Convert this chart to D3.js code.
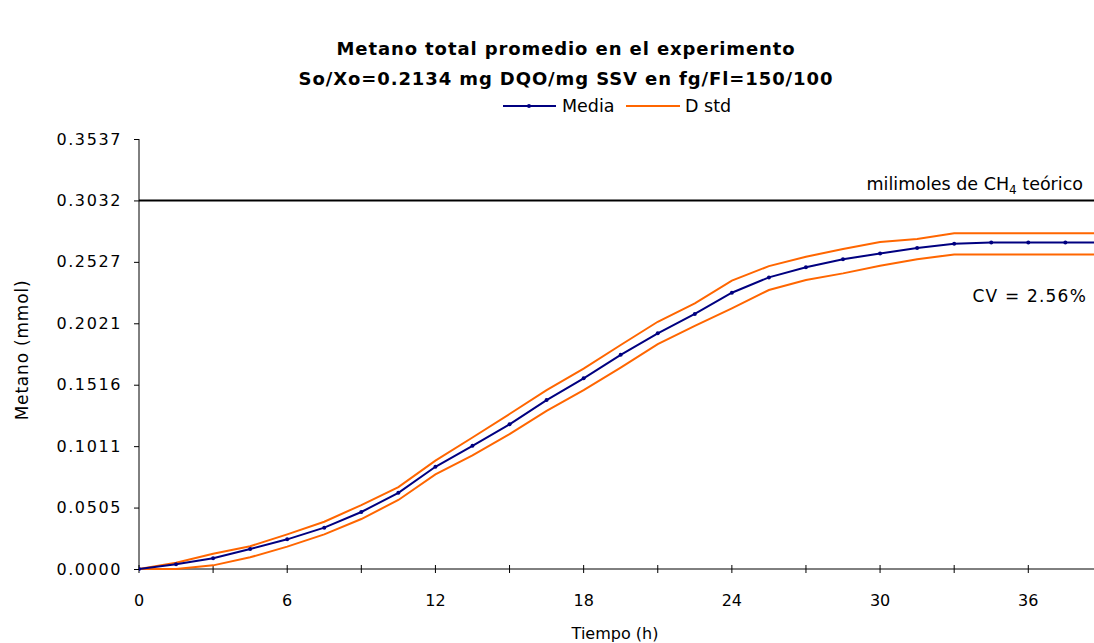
<!DOCTYPE html>
<html>
<head>
<meta charset="utf-8">
<script src="https://cdn.jsdelivr.net/npm/d3@7"></script>
<style>
  body { margin: 0; background: #fff; }
  text { font-family: "DejaVu Sans", Verdana, sans-serif; fill: #000; }
</style>
</head>
<body>
<script>
// time in hours, one reading every 1.5 h
var tiempo = [0, 1.5, 3, 4.5, 6, 7.5, 9, 10.5, 12, 13.5, 15, 16.5, 18, 19.5, 21, 22.5,
              24, 25.5, 27, 28.5, 30, 31.5, 33, 34.5, 36, 37.5, 39];
// mean methane (mmol)
var media = [0, 0.0039, 0.0088, 0.0165, 0.0244, 0.0340, 0.0469, 0.0627, 0.0841, 0.1013,
             0.1190, 0.1390, 0.1569, 0.1762, 0.1939, 0.2098, 0.2273, 0.2399, 0.2482, 0.2548,
             0.2596, 0.2641, 0.2676, 0.2687, 0.2687, 0.2687, 0.2687];
// mean + std
var dstdSup = [0, 0.0052, 0.0126, 0.0187, 0.0285, 0.0389, 0.0526, 0.0674, 0.0891, 0.1082,
               0.1275, 0.1472, 0.1649, 0.1843, 0.2034, 0.2186, 0.2372, 0.2492, 0.2569, 0.2632,
               0.2690, 0.2714, 0.2762, 0.2762, 0.2762, 0.2762, 0.2762];
// mean - std
var dstdInf = [0, 0, 0.0030, 0.0096, 0.0184, 0.0285, 0.0411, 0.0568, 0.0779, 0.0934,
               0.1110, 0.1300, 0.1472, 0.1657, 0.1850, 0.2000, 0.2144, 0.2295, 0.2377, 0.2432,
               0.2495, 0.2548, 0.2588, 0.2588, 0.2588, 0.2588, 0.2588];

var teorico = 0.3032;
var yTicks = [0, 0.05054, 0.10107, 0.15161, 0.20214, 0.25268, 0.30321, 0.35375];
var yTickLabels = ["0.0000", "0.0505", "0.1011", "0.1516", "0.2021", "0.2527", "0.3032", "0.3537"];
var xTicks = [0, 3, 6, 9, 12, 15, 18, 21, 24, 27, 30, 33, 36];
var xLabels = [0, 6, 12, 18, 24, 30, 36];

var W = 1094, H = 643;
var pLeft = 139, pRight = 1094, pTop = 139, pBottom = 569;

var svg = d3.select("body").append("svg")
            .attr("width", W)
            .attr("height", H);

var x = d3.scaleLinear().domain([0, 38.66]).range([pLeft, pRight]);
var y = d3.scaleLinear().domain([0, 0.35375]).range([pBottom, pTop]);

svg.append("clipPath").attr("id", "area")
   .append("rect").attr("x", pLeft).attr("y", pTop - 5)
   .attr("width", pRight - pLeft).attr("height", pBottom - pTop + 10);

// title
svg.append("text").attr("x", 566).attr("y", 55).attr("text-anchor", "middle")
   .style("font-weight", "bold").style("font-size", "18px").style("letter-spacing", "0.9px")
   .text("Metano total promedio en el experimento");
svg.append("text").attr("x", 566).attr("y", 85).attr("text-anchor", "middle")
   .style("font-weight", "bold").style("font-size", "18px").style("letter-spacing", "0.9px")
   .text("So/Xo=0.2134 mg DQO/mg SSV en fg/Fl=150/100");

// legend
var leg = svg.append("g").attr("transform", "translate(0,106)");
leg.append("line").attr("x1", 503).attr("x2", 556).attr("y1", 0).attr("y2", 0)
   .attr("stroke", "#000080").attr("stroke-width", 2);
leg.append("circle").attr("cx", 529).attr("cy", 0).attr("r", 2).attr("fill", "#000080");
leg.append("text").attr("x", 562).attr("y", 6).style("font-size", "17.5px").text("Media");
leg.append("line").attr("x1", 626).attr("x2", 680).attr("y1", 0).attr("y2", 0)
   .attr("stroke", "#FF6600").attr("stroke-width", 2);
leg.append("text").attr("x", 685).attr("y", 6).style("font-size", "17.5px").text("D std");

// axes
var yAxis = d3.axisLeft(y).tickValues(yTicks)
              .tickFormat(function(d, i){ return yTickLabels[i]; })
              .tickSize(5).tickPadding(12);
var gy = svg.append("g").attr("transform", "translate(" + pLeft + ",0)").call(yAxis);
gy.select(".domain").attr("d", "M0," + pTop + "V" + pBottom);
gy.selectAll("text").style("font-size", "16px").style("letter-spacing", "1.6px")
  .attr("font-family", null);

var gx = svg.append("g").attr("transform", "translate(0," + pBottom + ")");
gx.append("line").attr("x1", pLeft).attr("x2", pRight).attr("stroke", "#000");
gx.selectAll(".tk").data(xTicks).enter().append("line")
  .attr("x1", function(d){ return x(d); }).attr("x2", function(d){ return x(d); })
  .attr("y1", -4).attr("y2", 4).attr("stroke", "#000");
gx.selectAll(".lb").data(xLabels).enter().append("text")
  .attr("x", function(d){ return x(d); }).attr("y", 37)
  .attr("text-anchor", "middle").style("font-size", "16px")
  .text(function(d){ return d; });

svg.append("text").attr("x", 615).attr("y", 639).attr("text-anchor", "middle")
   .style("font-size", "16px").text("Tiempo (h)");
svg.append("text").attr("transform", "translate(28,350) rotate(-90)")
   .attr("text-anchor", "middle").style("font-size", "17px").style("letter-spacing", "0.8px")
   .text("Metano (mmol)");

// theoretical line
svg.append("line").attr("x1", pLeft).attr("x2", pRight)
   .attr("y1", y(teorico)).attr("y2", y(teorico))
   .attr("stroke", "#000").attr("stroke-width", 2);
var lbl = svg.append("text").attr("x", 1083).attr("y", 190).attr("text-anchor", "end")
   .style("font-size", "17.5px");
lbl.append("tspan").text("milimoles de CH");
lbl.append("tspan").attr("dy", 4).style("font-size", "12px").text("4");
lbl.append("tspan").attr("dy", -4).text(" teórico");

svg.append("text").attr("x", 1087).attr("y", 302).attr("text-anchor", "end")
   .style("font-size", "17px").style("letter-spacing", "1.2px").text("CV = 2.56%");

// series
var plot = svg.append("g").attr("clip-path", "url(#area)");
function linea(vals) {
  return d3.line()
    .x(function(d, i){ return x(tiempo[i]); })
    .y(function(d){ return y(d); })(vals);
}
plot.append("path").attr("d", linea(dstdSup)).attr("fill", "none")
    .attr("stroke", "#FF6600").attr("stroke-width", 2);
plot.append("path").attr("d", linea(dstdInf)).attr("fill", "none")
    .attr("stroke", "#FF6600").attr("stroke-width", 2);
plot.append("path").attr("d", linea(media)).attr("fill", "none")
    .attr("stroke", "#000080").attr("stroke-width", 2);
plot.selectAll(".pt").data(media).enter().append("circle")
    .attr("cx", function(d, i){ return x(tiempo[i]); })
    .attr("cy", function(d){ return y(d); })
    .attr("r", 2).attr("fill", "#000080");
</script>
</body>
</html>
